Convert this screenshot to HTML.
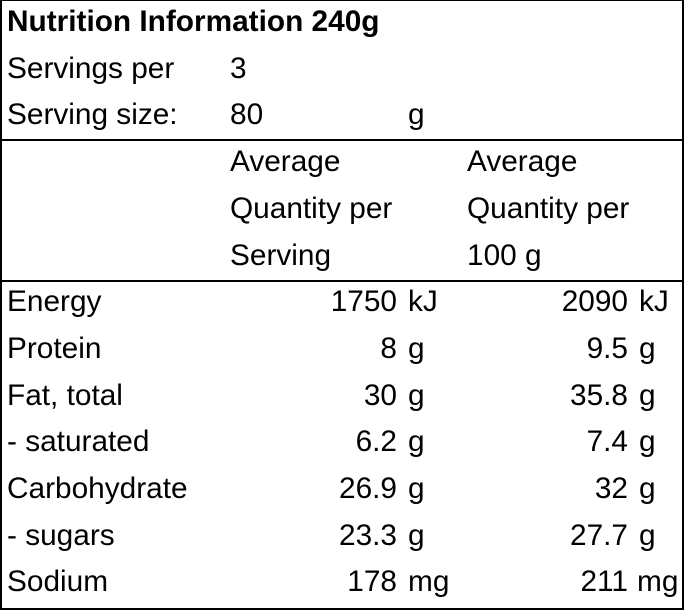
<!DOCTYPE html>
<html><head><style>
html,body{margin:0;padding:0;background:#fff;width:688px;height:612px;overflow:hidden}
.box{position:absolute;left:0;top:0;width:684px;height:610px;box-sizing:border-box;border:2px solid #000;border-top-width:1px}
.hl{position:absolute;left:0;width:684px;height:2px;background:#000}
.t{position:absolute;font-family:"Liberation Sans",Arial,sans-serif;font-size:29.8px;line-height:46.7px;height:46.7px;white-space:nowrap;color:#000;margin-top:1.5px}
.r{text-align:right}
</style></head><body>
<div class="box"></div>
<div class="hl" style="top:139px"></div>
<div class="hl" style="top:280px"></div>

<div class="t" style="left:7px;top:-2.5px;font-weight:bold;font-size:29.8px">Nutrition Information 240g</div>
<div class="t" style="left:7px;top:44.2px">Servings per</div>
<div class="t" style="left:230px;top:44.2px">3</div>
<div class="t" style="left:7px;top:90.9px">Serving size:</div>
<div class="t" style="left:230px;top:90.9px">80</div>
<div class="t" style="left:408px;top:90.9px">g</div>

<div class="t" style="left:230px;top:137.6px">Average</div>
<div class="t" style="left:467px;top:137.6px">Average</div>
<div class="t" style="left:230px;top:184.3px">Quantity per</div>
<div class="t" style="left:467px;top:184.3px">Quantity per</div>
<div class="t" style="left:230px;top:231px">Serving</div>
<div class="t" style="left:467px;top:231px">100 g</div>

<div class="t" style="left:7px;top:277.7px">Energy</div>
<div class="t r" style="right:291px;top:277.7px">1750</div><div class="t" style="left:408px;top:277.7px">kJ</div>
<div class="t r" style="right:60px;top:277.7px">2090</div><div class="t" style="left:639px;top:277.7px">kJ</div>

<div class="t" style="left:7px;top:324.4px">Protein</div>
<div class="t r" style="right:291px;top:324.4px">8</div><div class="t" style="left:408px;top:324.4px">g</div>
<div class="t r" style="right:60px;top:324.4px">9.5</div><div class="t" style="left:639px;top:324.4px">g</div>

<div class="t" style="left:7px;top:371.1px">Fat, total</div>
<div class="t r" style="right:291px;top:371.1px">30</div><div class="t" style="left:408px;top:371.1px">g</div>
<div class="t r" style="right:60px;top:371.1px">35.8</div><div class="t" style="left:639px;top:371.1px">g</div>

<div class="t" style="left:7px;top:417.8px">- saturated</div>
<div class="t r" style="right:291px;top:417.8px">6.2</div><div class="t" style="left:408px;top:417.8px">g</div>
<div class="t r" style="right:60px;top:417.8px">7.4</div><div class="t" style="left:639px;top:417.8px">g</div>

<div class="t" style="left:7px;top:464.5px">Carbohydrate</div>
<div class="t r" style="right:291px;top:464.5px">26.9</div><div class="t" style="left:408px;top:464.5px">g</div>
<div class="t r" style="right:60px;top:464.5px">32</div><div class="t" style="left:639px;top:464.5px">g</div>

<div class="t" style="left:7px;top:511.2px">- sugars</div>
<div class="t r" style="right:291px;top:511.2px">23.3</div><div class="t" style="left:408px;top:511.2px">g</div>
<div class="t r" style="right:60px;top:511.2px">27.7</div><div class="t" style="left:639px;top:511.2px">g</div>

<div class="t" style="left:7px;top:557.9px">Sodium</div>
<div class="t r" style="right:291px;top:557.9px">178</div><div class="t" style="left:408px;top:557.9px">mg</div>
<div class="t r" style="right:60px;top:557.9px">211</div><div class="t" style="left:637px;top:557.9px">mg</div>
</body></html>
